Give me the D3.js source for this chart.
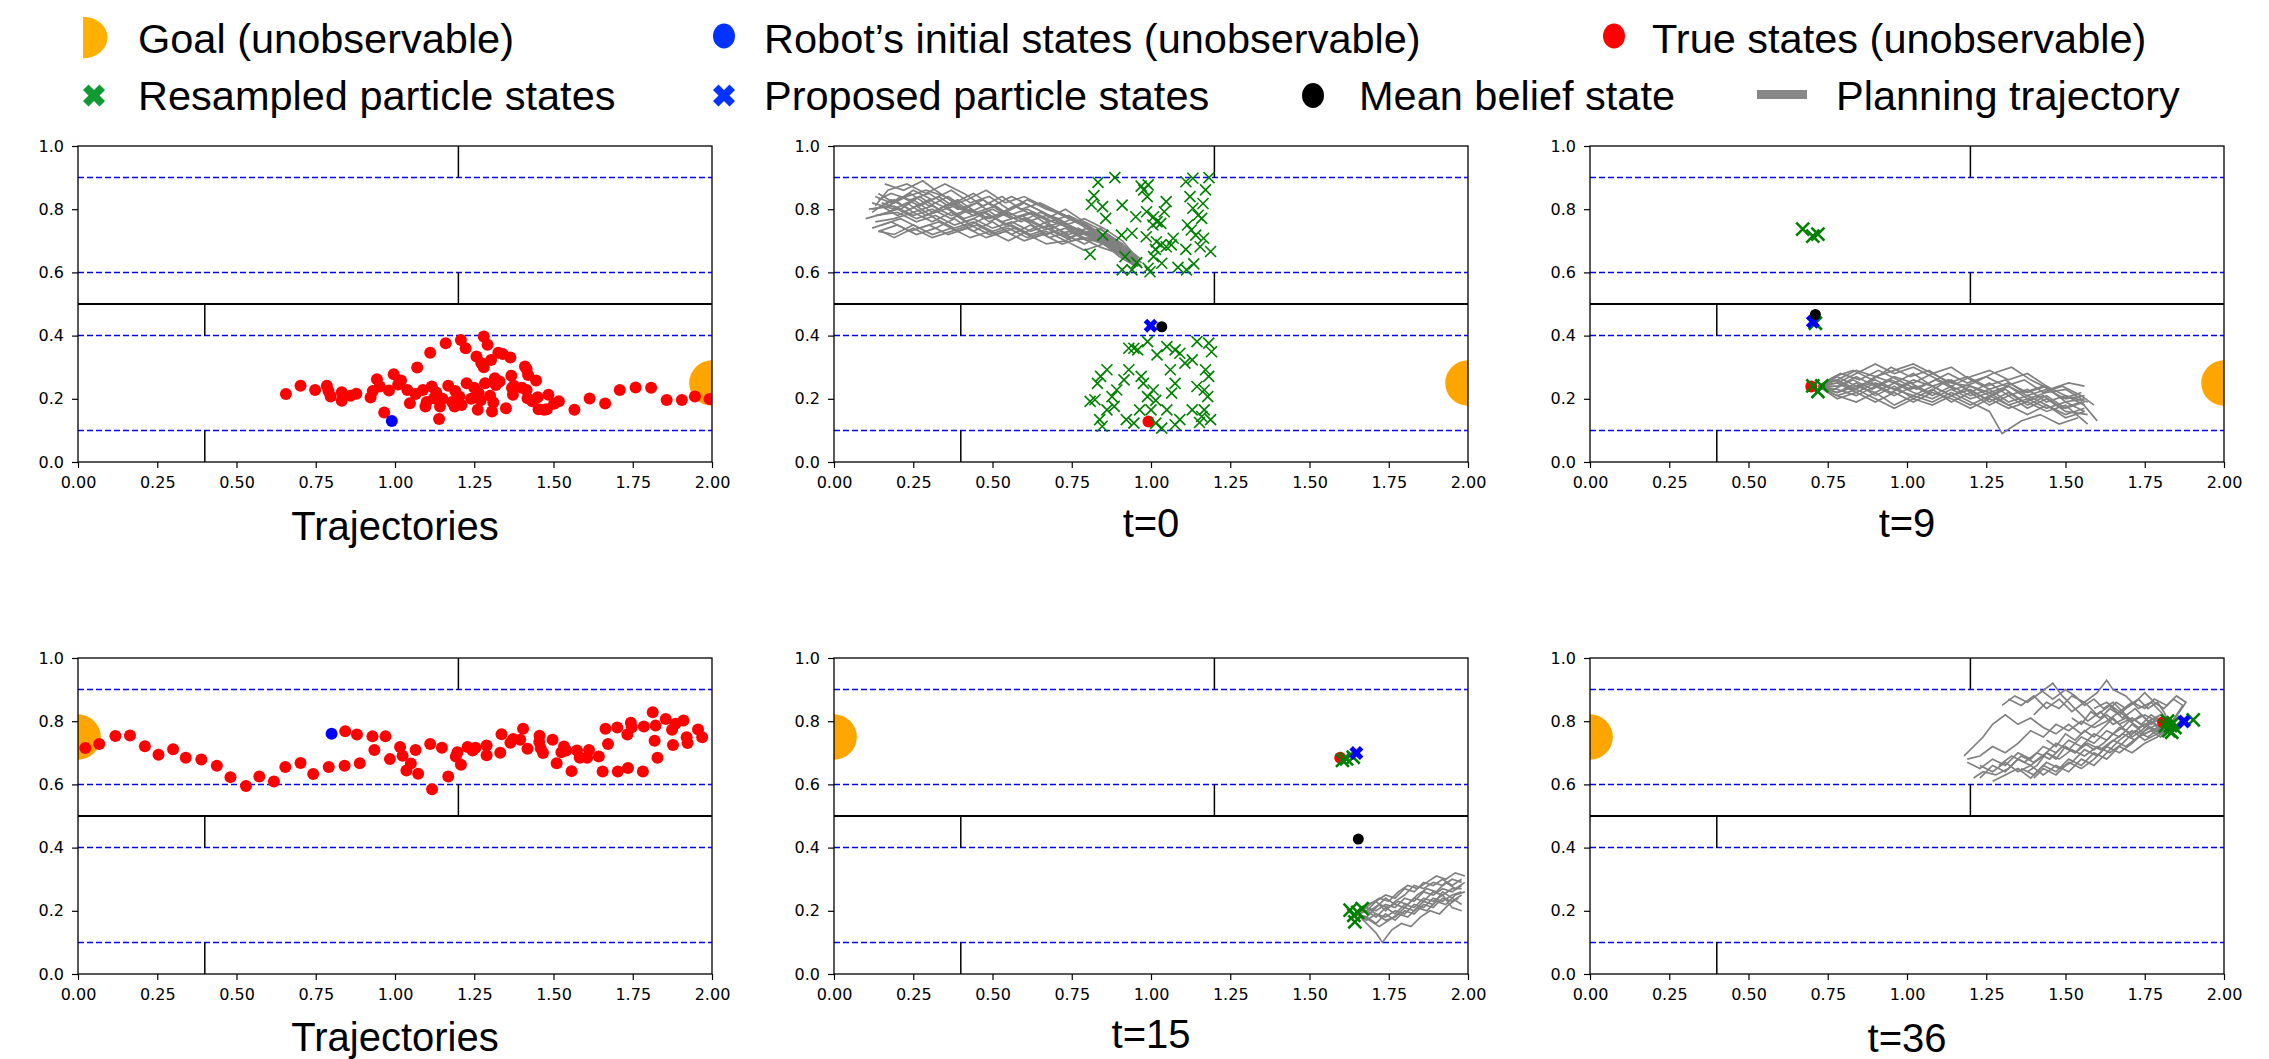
<!DOCTYPE html>
<html lang="en">
<head>
<meta charset="utf-8">
<title>Particle belief planning</title>
<script src="https://d3js.org/d3.v7.min.js"></script>
<style>
  body { margin: 0; background: #fff; }
  .tick text { font-family: "DejaVu Sans", sans-serif; font-size: 16px; fill: #000; }
  .tick line { stroke: #000; stroke-width: 1.2; }
  .lbl { font-family: "Liberation Sans", Arial, sans-serif; font-size: 40px; fill: #000; }
  .leg { font-size: 41.5px; }
</style>
</head>
<body>
<div id="chart"></div>
<script>
// ---- data (data units) ----
var xTicks = [0, 0.25, 0.5, 0.75, 1.0, 1.25, 1.5, 1.75, 2.0];
var yTicks = [0, 0.2, 0.4, 0.6, 0.8, 1.0];
var laneLines = [0.9, 0.6, 0.4, 0.1];
// walls: [x1, y1, x2, y2]
var walls = [[0, 0.5, 2, 0.5], [1.2, 0.9, 1.2, 1.0], [1.2, 0.5, 1.2, 0.6], [0.4, 0.4, 0.4, 0.5], [0.4, 0, 0.4, 0.1]];
var goalRadius = 0.072;

var titles = ["Trajectories", "t=0", "t=9", "Trajectories", "t=15", "t=36"];
var goals = [[2.0, 0.25], [2.0, 0.25], [2.0, 0.25], [0.0, 0.75], [0.0, 0.75], [0.0, 0.75]];

// true trajectory of episode 1 (top row)
var trueStatesA = [[0.656,0.215],[0.702,0.241],[0.748,0.228],[0.785,0.241],[0.797,0.207],[0.832,0.221],[0.832,0.194],[0.878,0.216],
  [0.923,0.204],[0.943,0.262],[0.952,0.239],[0.966,0.157],[0.981,0.226],[0.996,0.278],[1.019,0.258],[1.039,0.228],[1.047,0.186],
  [1.070,0.299],[1.088,0.228],[1.096,0.176],[1.111,0.346],[1.116,0.239],[1.123,0.202],[1.139,0.136],[1.142,0.176],[1.160,0.376],
  [1.168,0.241],[1.188,0.176],[1.203,0.207],[1.208,0.386],[1.223,0.360],[1.226,0.249],[1.257,0.334],[1.261,0.165],[1.264,0.218],
  [1.272,0.313],[1.280,0.397],[1.284,0.249],[1.292,0.371],[1.303,0.323],[1.306,0.160],[1.310,0.188],[1.315,0.265],[1.318,0.244],
  [1.326,0.346],[1.340,0.342],[1.364,0.331],[1.367,0.273],[1.369,0.234],[1.372,0.213],[1.375,0.241],[1.410,0.302],[1.415,0.294],
  [1.415,0.228],[1.418,0.202],[1.433,0.192],[1.445,0.258],[1.453,0.167],[1.479,0.167],[1.484,0.213],[1.502,0.184],[1.517,0.192],
  [1.566,0.165],[1.614,0.201],[1.663,0.185],[1.709,0.228],[1.759,0.236],[1.808,0.235],[1.857,0.196],[1.905,0.196],[1.946,0.207],
  [1.992,0.199],[1.065,0.215],[1.100,0.190],[1.130,0.220],[1.150,0.200],[1.180,0.190],[1.190,0.225],[1.210,0.180],[1.240,0.200],
  [1.270,0.195],[1.300,0.210],[1.330,0.255],[1.350,0.170],[1.400,0.235],[1.420,0.275],[1.250,0.235],[1.280,0.300],[1.010,0.245],
  [0.930,0.225],[0.860,0.210],[0.790,0.225],[1.450,0.205],[1.470,0.165]];
var initialA = [0.99, 0.13];

// true trajectory of episode 2 (bottom row)
var trueStatesB = [[0.023,0.715],[0.067,0.728],[0.118,0.753],[0.164,0.755],[0.211,0.721],[0.254,0.694],[0.300,0.711],[0.340,0.684],
  [0.389,0.679],[0.438,0.659],[0.481,0.623],[0.530,0.595],[0.572,0.625],[0.618,0.609],[0.654,0.655],[0.702,0.668],[0.742,0.633],
  [0.791,0.655],[0.841,0.659],[0.843,0.768],[0.880,0.758],[0.889,0.667],[0.929,0.752],[0.935,0.709],[0.970,0.752],[0.984,0.680],
  [1.016,0.718],[1.024,0.691],[1.036,0.644],[1.050,0.666],[1.065,0.709],[1.073,0.634],[1.111,0.728],[1.117,0.585],[1.148,0.716],
  [1.168,0.625],[1.197,0.702],[1.192,0.688],[1.208,0.662],[1.229,0.718],[1.245,0.707],[1.254,0.716],[1.289,0.723],[1.289,0.692],
  [1.332,0.700],[1.336,0.759],[1.364,0.732],[1.373,0.744],[1.395,0.741],[1.404,0.776],[1.418,0.713],[1.456,0.754],[1.455,0.734],
  [1.460,0.714],[1.467,0.699],[1.497,0.741],[1.510,0.667],[1.525,0.702],[1.533,0.720],[1.540,0.707],[1.557,0.642],[1.574,0.707],
  [1.583,0.684],[1.606,0.684],[1.612,0.709],[1.643,0.688],[1.655,0.641],[1.664,0.776],[1.672,0.728],[1.701,0.780],[1.703,0.641],
  [1.733,0.758],[1.735,0.652],[1.744,0.795],[1.747,0.781],[1.782,0.641],[1.785,0.783],[1.813,0.828],[1.819,0.738],[1.822,0.786],
  [1.828,0.684],[1.854,0.807],[1.874,0.773],[1.877,0.725],[1.885,0.792],[1.910,0.802],[1.920,0.749],[1.923,0.731],[1.956,0.774],
  [1.969,0.749]];
var initialB = [0.80, 0.76];

// t=0 resampled particles
var particles0 = [[0.833,0.885],[0.886,0.900],[0.820,0.843],[0.812,0.815],[0.847,0.808],[0.857,0.771],[0.909,0.813],[0.848,0.718],
  [0.808,0.657],[0.969,0.873],[0.991,0.877],[0.977,0.861],[0.988,0.840],[0.952,0.776],[0.986,0.792],[1.008,0.776],[1.019,0.760],
  [1.006,0.750],[1.031,0.755],[1.048,0.824],[1.042,0.792],[0.940,0.724],[0.907,0.718],[0.985,0.713],[1.017,0.697],[1.031,0.687],
  [1.014,0.673],[1.048,0.681],[1.064,0.687],[1.008,0.650],[1.034,0.629],[0.918,0.650],[0.909,0.608],[0.940,0.608],[0.955,0.631],
  [0.991,0.613],[0.997,0.602],[1.085,0.616],[1.112,0.608],[1.135,0.627],[1.110,0.673],[1.155,0.681],[1.188,0.666],[1.166,0.708],
  [1.115,0.750],[1.127,0.734],[1.141,0.718],[1.160,0.771],[1.149,0.781],[1.164,0.818],[1.132,0.803],[1.123,0.840],[1.172,0.861],
  [1.183,0.900],[1.132,0.898],[1.110,0.887],[1.070,0.708],
  [0.946,0.360],[0.958,0.355],[0.930,0.360],[0.989,0.381],[1.019,0.339],[1.050,0.365],[1.076,0.355],[1.091,0.344],[1.061,0.292],
  [1.076,0.249],[1.065,0.218],[1.107,0.313],[1.130,0.323],[1.145,0.381],[1.182,0.376],[1.191,0.349],[1.172,0.292],[1.182,0.271],
  [1.168,0.228],[1.179,0.207],[1.130,0.165],[1.160,0.144],[1.188,0.134],[1.153,0.125],[1.091,0.134],[1.076,0.118],[1.050,0.165],
  [1.034,0.107],[1.015,0.123],[1.000,0.165],[0.964,0.165],[0.989,0.207],[1.007,0.228],[0.976,0.249],[0.969,0.271],[0.930,0.292],
  [0.915,0.260],[0.892,0.228],[0.877,0.207],[0.884,0.176],[0.861,0.165],[0.838,0.134],[0.831,0.249],[0.841,0.271],[0.861,0.292],
  [0.823,0.197],[0.808,0.192],[0.846,0.113],[0.922,0.134],[0.946,0.123],[1.015,0.195],[1.145,0.239],[1.168,0.165]];

// planning trajectories, flat x,y lists
var plan0 = [
  [0.96,0.62,0.92,0.66,0.87,0.69,0.81,0.72,0.75,0.74,0.69,0.76,0.63,0.79,0.57,0.77,0.51,0.81,0.45,0.79,0.39,0.83,0.33,0.80,0.27,0.84,0.21,0.80,0.15,0.82],
  [0.96,0.63,0.91,0.67,0.86,0.70,0.80,0.74,0.74,0.72,0.68,0.75,0.62,0.73,0.56,0.76,0.50,0.74,0.44,0.77,0.38,0.75,0.32,0.78,0.26,0.76,0.20,0.79,0.13,0.78],
  [0.95,0.62,0.90,0.68,0.85,0.71,0.79,0.75,0.73,0.78,0.67,0.80,0.61,0.83,0.55,0.80,0.49,0.84,0.43,0.82,0.37,0.86,0.31,0.83,0.25,0.86,0.19,0.82,0.14,0.85],
  [0.97,0.64,0.92,0.68,0.86,0.72,0.80,0.70,0.74,0.73,0.68,0.71,0.62,0.75,0.56,0.72,0.50,0.76,0.44,0.73,0.38,0.77,0.32,0.74,0.26,0.72,0.20,0.75,0.14,0.73],
  [0.96,0.62,0.90,0.66,0.84,0.68,0.78,0.71,0.72,0.69,0.66,0.72,0.60,0.70,0.54,0.73,0.48,0.71,0.42,0.74,0.36,0.72,0.30,0.75,0.24,0.73,0.18,0.76,0.12,0.74],
  [0.95,0.63,0.89,0.69,0.83,0.73,0.77,0.76,0.71,0.79,0.65,0.82,0.59,0.80,0.53,0.84,0.47,0.81,0.41,0.85,0.35,0.88,0.29,0.85,0.23,0.88,0.17,0.86,0.13,0.81],
  [0.96,0.64,0.91,0.70,0.85,0.74,0.79,0.77,0.73,0.75,0.67,0.78,0.61,0.76,0.55,0.79,0.49,0.77,0.43,0.80,0.37,0.78,0.31,0.81,0.25,0.79,0.19,0.83,0.13,0.80],
  [0.97,0.63,0.92,0.67,0.87,0.71,0.81,0.74,0.75,0.77,0.69,0.74,0.63,0.78,0.57,0.81,0.51,0.78,0.45,0.82,0.39,0.80,0.33,0.84,0.27,0.81,0.21,0.84,0.16,0.80],
  [0.95,0.62,0.90,0.65,0.84,0.70,0.78,0.73,0.72,0.76,0.66,0.74,0.60,0.77,0.54,0.75,0.48,0.79,0.42,0.76,0.36,0.80,0.30,0.83,0.24,0.80,0.18,0.83,0.12,0.79],
  [0.96,0.63,0.90,0.68,0.85,0.72,0.79,0.69,0.73,0.72,0.67,0.76,0.61,0.73,0.55,0.70,0.49,0.73,0.43,0.71,0.37,0.74,0.31,0.72,0.25,0.75,0.19,0.72,0.14,0.73],
  [0.96,0.62,0.91,0.66,0.86,0.69,0.80,0.72,0.74,0.75,0.68,0.78,0.62,0.81,0.56,0.84,0.50,0.81,0.44,0.85,0.38,0.82,0.32,0.86,0.28,0.89,0.22,0.86,0.16,0.88],
  [0.95,0.63,0.89,0.67,0.83,0.71,0.77,0.74,0.71,0.72,0.65,0.75,0.59,0.78,0.53,0.76,0.47,0.79,0.41,0.77,0.35,0.81,0.29,0.78,0.23,0.82,0.17,0.79,0.10,0.77],
  [0.97,0.62,0.92,0.66,0.86,0.70,0.80,0.73,0.74,0.71,0.68,0.74,0.62,0.72,0.56,0.75,0.50,0.73,0.44,0.76,0.38,0.74,0.32,0.77,0.26,0.81,0.20,0.78,0.15,0.81],
  [0.96,0.63,0.91,0.69,0.85,0.73,0.79,0.76,0.73,0.80,0.67,0.77,0.61,0.80,0.55,0.78,0.49,0.82,0.43,0.79,0.37,0.82,0.31,0.79,0.25,0.83,0.19,0.80,0.12,0.82],
  [0.95,0.62,0.90,0.67,0.84,0.71,0.78,0.75,0.72,0.78,0.66,0.81,0.60,0.84,0.54,0.82,0.48,0.86,0.42,0.83,0.36,0.81,0.30,0.85,0.24,0.83,0.18,0.85,0.14,0.83],
  [0.96,0.62,0.92,0.65,0.87,0.68,0.81,0.71,0.75,0.70,0.69,0.73,0.63,0.71,0.57,0.74,0.51,0.72,0.45,0.75,0.39,0.73,0.33,0.76,0.27,0.74,0.21,0.77,0.15,0.75],
  [0.96,0.62,0.91,0.65,0.85,0.69,0.79,0.71,0.73,0.74,0.67,0.72,0.61,0.76,0.55,0.79,0.49,0.76,0.43,0.80,0.37,0.77,0.31,0.80,0.25,0.78,0.19,0.81,0.11,0.80],
  [0.95,0.63,0.90,0.69,0.84,0.74,0.78,0.72,0.72,0.75,0.66,0.79,0.60,0.82,0.54,0.79,0.48,0.77,0.42,0.80,0.36,0.84,0.30,0.81,0.24,0.85,0.18,0.82,0.13,0.84],
  [0.97,0.63,0.91,0.68,0.86,0.71,0.80,0.75,0.74,0.78,0.68,0.76,0.62,0.79,0.56,0.77,0.50,0.80,0.44,0.78,0.38,0.81,0.32,0.79,0.26,0.77,0.20,0.80,0.14,0.78],
  [0.96,0.62,0.91,0.66,0.85,0.70,0.79,0.73,0.73,0.70,0.67,0.73,0.61,0.71,0.55,0.74,0.49,0.72,0.43,0.75,0.37,0.73,0.31,0.71,0.25,0.74,0.19,0.71,0.15,0.73],
  [0.95,0.62,0.89,0.67,0.83,0.70,0.77,0.73,0.71,0.77,0.65,0.79,0.59,0.76,0.53,0.79,0.47,0.83,0.41,0.80,0.35,0.84,0.29,0.86,0.23,0.84,0.17,0.81,0.12,0.80],
  [0.96,0.63,0.90,0.66,0.85,0.69,0.79,0.67,0.73,0.70,0.67,0.69,0.61,0.72,0.55,0.75,0.49,0.78,0.43,0.75,0.37,0.79,0.31,0.76,0.25,0.79,0.19,0.77,0.13,0.76]];

var plan9 = [
  [0.72,0.24,0.78,0.26,0.84,0.23,0.90,0.27,0.96,0.25,1.02,0.28,1.08,0.24,1.14,0.26,1.20,0.22,1.26,0.25,1.32,0.21,1.38,0.23,1.44,0.19,1.50,0.21,1.56,0.18],
  [0.72,0.24,0.78,0.22,0.84,0.25,0.90,0.21,0.96,0.24,1.02,0.20,1.08,0.23,1.14,0.19,1.20,0.22,1.26,0.18,1.32,0.21,1.38,0.17,1.44,0.20,1.50,0.16,1.57,0.15],
  [0.72,0.24,0.77,0.27,0.83,0.29,0.89,0.26,0.95,0.30,1.01,0.27,1.07,0.29,1.13,0.25,1.19,0.27,1.25,0.24,1.31,0.26,1.37,0.22,1.43,0.24,1.49,0.20,1.55,0.22],
  [0.72,0.24,0.78,0.21,0.84,0.19,0.90,0.22,0.96,0.18,1.02,0.21,1.08,0.19,1.14,0.22,1.20,0.19,1.26,0.16,1.30,0.09,1.36,0.13,1.42,0.15,1.48,0.12,1.54,0.14],
  [0.72,0.24,0.78,0.25,0.84,0.28,0.90,0.31,0.96,0.28,1.02,0.30,1.08,0.27,1.14,0.24,1.20,0.27,1.26,0.29,1.32,0.26,1.38,0.28,1.44,0.24,1.50,0.19,1.56,0.20],
  [0.72,0.24,0.78,0.23,0.84,0.21,0.90,0.24,0.96,0.21,1.02,0.24,1.08,0.21,1.14,0.24,1.20,0.21,1.26,0.23,1.32,0.19,1.38,0.21,1.44,0.18,1.50,0.15,1.56,0.17],
  [0.72,0.24,0.77,0.26,0.83,0.23,0.89,0.25,0.95,0.22,1.01,0.25,1.07,0.22,1.13,0.26,1.19,0.23,1.25,0.20,1.31,0.23,1.37,0.19,1.43,0.21,1.49,0.17,1.55,0.19,1.60,0.13],
  [0.72,0.24,0.79,0.28,0.85,0.26,0.91,0.29,0.97,0.26,1.03,0.23,1.09,0.26,1.15,0.23,1.21,0.25,1.27,0.28,1.33,0.30,1.39,0.26,1.45,0.23,1.51,0.25,1.56,0.24],
  [0.72,0.24,0.78,0.20,0.84,0.22,0.90,0.19,0.96,0.22,1.02,0.19,1.08,0.22,1.14,0.20,1.20,0.17,1.26,0.20,1.32,0.17,1.38,0.19,1.44,0.16,1.50,0.18,1.57,0.12],
  [0.72,0.24,0.78,0.24,0.84,0.27,0.90,0.24,0.96,0.27,1.02,0.25,1.08,0.28,1.14,0.25,1.20,0.24,1.26,0.21,1.32,0.24,1.38,0.21,1.44,0.23,1.50,0.20,1.56,0.21],
  [0.72,0.24,0.78,0.27,0.84,0.24,0.90,0.26,0.96,0.23,1.02,0.26,1.08,0.24,1.14,0.21,1.20,0.24,1.26,0.22,1.32,0.24,1.38,0.20,1.44,0.22,1.50,0.23,1.55,0.20],
  [0.72,0.24,0.78,0.22,0.84,0.24,0.90,0.22,0.96,0.25,1.02,0.22,1.08,0.20,1.14,0.23,1.20,0.20,1.26,0.22,1.32,0.18,1.38,0.15,1.44,0.18,1.50,0.14,1.56,0.16],
  [0.72,0.24,0.78,0.26,0.84,0.29,0.90,0.27,0.96,0.29,1.02,0.31,1.08,0.28,1.14,0.30,1.20,0.26,1.26,0.23,1.32,0.25,1.38,0.22,1.44,0.24,1.50,0.21,1.57,0.19],
  [0.72,0.24,0.78,0.21,0.84,0.23,0.90,0.20,0.96,0.17,1.02,0.20,1.08,0.18,1.14,0.21,1.20,0.18,1.26,0.21,1.32,0.18,1.38,0.20,1.44,0.17,1.50,0.19,1.56,0.16],
  [0.72,0.24,0.77,0.23,0.83,0.26,0.89,0.23,0.95,0.26,1.01,0.23,1.07,0.25,1.13,0.28,1.19,0.25,1.25,0.27,1.31,0.24,1.37,0.26,1.43,0.22,1.49,0.24,1.55,0.21,1.59,0.18],
  [0.72,0.24,0.78,0.25,0.84,0.22,0.90,0.25,0.96,0.23,1.02,0.21,1.08,0.24,1.14,0.21,1.20,0.23,1.26,0.19,1.32,0.22,1.38,0.18,1.44,0.21,1.50,0.17,1.56,0.19]];

var plan15 = [
  [1.65,0.19,1.68,0.21,1.71,0.20,1.74,0.22,1.77,0.21,1.80,0.24,1.83,0.23,1.86,0.26,1.89,0.25,1.92,0.27,1.95,0.26,1.98,0.28],
  [1.65,0.19,1.68,0.17,1.71,0.19,1.74,0.18,1.77,0.20,1.80,0.19,1.83,0.22,1.86,0.21,1.89,0.24,1.92,0.23,1.95,0.25,1.98,0.26],
  [1.65,0.19,1.68,0.22,1.71,0.23,1.74,0.25,1.77,0.24,1.80,0.27,1.83,0.26,1.86,0.29,1.89,0.28,1.92,0.30,1.95,0.28,1.98,0.30],
  [1.65,0.19,1.68,0.16,1.71,0.13,1.73,0.10,1.76,0.14,1.79,0.16,1.82,0.15,1.85,0.18,1.88,0.20,1.91,0.19,1.94,0.22,1.97,0.24],
  [1.65,0.19,1.69,0.20,1.72,0.22,1.75,0.21,1.78,0.23,1.81,0.22,1.84,0.25,1.87,0.27,1.90,0.26,1.93,0.29,1.96,0.27,1.99,0.29],
  [1.65,0.19,1.68,0.18,1.71,0.16,1.74,0.19,1.77,0.17,1.80,0.20,1.83,0.19,1.86,0.22,1.89,0.21,1.92,0.24,1.95,0.23,1.98,0.25],
  [1.65,0.19,1.69,0.22,1.72,0.24,1.75,0.23,1.78,0.26,1.81,0.28,1.84,0.27,1.87,0.29,1.90,0.31,1.93,0.30,1.96,0.32,1.99,0.31],
  [1.65,0.19,1.68,0.20,1.71,0.18,1.74,0.21,1.77,0.19,1.80,0.22,1.83,0.21,1.86,0.24,1.89,0.23,1.92,0.25,1.95,0.21,1.98,0.20],
  [1.65,0.19,1.68,0.21,1.71,0.19,1.74,0.17,1.77,0.18,1.80,0.21,1.83,0.24,1.86,0.23,1.89,0.26,1.92,0.25,1.95,0.27,1.98,0.27],
  [1.65,0.19,1.68,0.20,1.71,0.23,1.74,0.20,1.77,0.23,1.80,0.25,1.83,0.28,1.86,0.27,1.89,0.29,1.92,0.28,1.95,0.30,1.98,0.29],
  [1.65,0.19,1.68,0.18,1.71,0.21,1.74,0.24,1.77,0.22,1.80,0.21,1.83,0.20,1.86,0.23,1.89,0.22,1.92,0.26,1.95,0.24,1.98,0.22],
  [1.65,0.19,1.69,0.17,1.72,0.15,1.75,0.17,1.78,0.19,1.81,0.18,1.84,0.21,1.87,0.20,1.90,0.23,1.93,0.22,1.96,0.25,1.99,0.26]];

var plan36 = [
  [1.83,0.79,1.79,0.77,1.75,0.79,1.71,0.76,1.67,0.78,1.63,0.74,1.59,0.76,1.55,0.72,1.51,0.74,1.47,0.70,1.43,0.72,1.39,0.68,1.35,0.70,1.31,0.66,1.27,0.68,1.23,0.65,1.19,0.67],
  [1.83,0.79,1.80,0.82,1.76,0.80,1.72,0.84,1.68,0.81,1.64,0.85,1.60,0.82,1.56,0.86,1.52,0.83,1.48,0.87,1.44,0.84,1.40,0.88,1.36,0.85,1.32,0.87],
  [1.83,0.79,1.79,0.75,1.75,0.73,1.71,0.70,1.67,0.72,1.63,0.68,1.59,0.70,1.55,0.66,1.51,0.68,1.47,0.64,1.43,0.66,1.39,0.62,1.35,0.65,1.31,0.63,1.27,0.61],
  [1.83,0.79,1.80,0.83,1.77,0.86,1.73,0.84,1.69,0.88,1.65,0.90,1.63,0.93,1.60,0.89,1.56,0.86,1.52,0.88,1.48,0.84,1.44,0.86,1.40,0.82],
  [1.83,0.79,1.79,0.78,1.75,0.76,1.71,0.79,1.67,0.75,1.63,0.77,1.59,0.73,1.55,0.75,1.51,0.71,1.47,0.73,1.43,0.69,1.39,0.66,1.35,0.68,1.31,0.64,1.27,0.66,1.23,0.62],
  [1.83,0.79,1.80,0.76,1.76,0.78,1.72,0.74,1.68,0.76,1.64,0.73,1.60,0.69,1.56,0.71,1.52,0.67,1.48,0.65,1.44,0.67,1.40,0.63,1.36,0.65],
  [1.83,0.79,1.79,0.80,1.75,0.82,1.71,0.80,1.67,0.83,1.63,0.80,1.59,0.78,1.55,0.80,1.51,0.77,1.47,0.79,1.43,0.75,1.39,0.77,1.35,0.73,1.31,0.70,1.27,0.72,1.23,0.69,1.19,0.68],
  [1.83,0.79,1.80,0.77,1.77,0.80,1.73,0.78,1.69,0.81,1.65,0.79,1.61,0.83,1.57,0.80,1.53,0.84,1.49,0.88,1.46,0.92,1.42,0.89,1.38,0.86,1.34,0.88,1.30,0.85],
  [1.83,0.79,1.79,0.79,1.75,0.77,1.71,0.73,1.67,0.70,1.63,0.72,1.59,0.68,1.55,0.65,1.51,0.67,1.47,0.63,1.43,0.65,1.40,0.62],
  [1.83,0.79,1.80,0.80,1.77,0.82,1.74,0.79,1.71,0.81,1.68,0.78,1.65,0.81,1.62,0.78,1.59,0.75,1.56,0.77,1.53,0.74,1.50,0.76,1.47,0.72,1.44,0.74],
  [1.83,0.79,1.81,0.83,1.79,0.86,1.76,0.84,1.73,0.87,1.70,0.85,1.67,0.82,1.64,0.84,1.61,0.81,1.58,0.83,1.55,0.79,1.52,0.81],
  [1.83,0.79,1.79,0.76,1.75,0.74,1.71,0.77,1.67,0.74,1.63,0.70,1.59,0.66,1.55,0.68,1.51,0.64,1.47,0.66,1.43,0.63,1.39,0.66,1.35,0.64,1.31,0.67,1.27,0.64,1.23,0.66],
  [1.83,0.79,1.86,0.83,1.88,0.86,1.85,0.88,1.82,0.85,1.78,0.87,1.75,0.84,1.71,0.86,1.67,0.83,1.63,0.86,1.59,0.84],
  [1.83,0.79,1.80,0.75,1.77,0.77,1.73,0.75,1.69,0.72,1.65,0.74,1.61,0.71,1.57,0.73,1.53,0.70,1.49,0.72,1.45,0.68,1.41,0.70,1.37,0.67,1.33,0.69,1.29,0.66],
  [1.83,0.79,1.79,0.81,1.75,0.78,1.71,0.81,1.67,0.79,1.63,0.82,1.59,0.79,1.55,0.76,1.51,0.79,1.47,0.76,1.43,0.78,1.39,0.81,1.35,0.79,1.31,0.82,1.27,0.79,1.24,0.75,1.21,0.72,1.18,0.69],
  [1.83,0.79,1.80,0.78,1.76,0.75,1.72,0.77,1.68,0.73,1.64,0.70,1.60,0.72,1.56,0.69,1.52,0.71,1.48,0.68,1.44,0.70,1.40,0.67,1.36,0.69,1.32,0.65,1.28,0.63,1.24,0.64,1.21,0.62],
  [1.83,0.79,1.80,0.81,1.77,0.79,1.74,0.82,1.71,0.80,1.68,0.83,1.65,0.86,1.62,0.84,1.59,0.87,1.56,0.85,1.53,0.88,1.50,0.90,1.46,0.87,1.42,0.90],
  [1.83,0.79,1.80,0.78,1.77,0.80,1.74,0.77,1.71,0.75,1.68,0.78,1.65,0.76,1.62,0.73,1.59,0.71,1.56,0.73,1.53,0.70,1.50,0.72,1.47,0.68,1.44,0.70,1.41,0.66,1.38,0.64],
  [1.83,0.79,1.85,0.82,1.87,0.85,1.84,0.87,1.81,0.84,1.78,0.86,1.75,0.89,1.72,0.86,1.69,0.84,1.66,0.86,1.63,0.83]];

var particles9 = [[0.671,0.737],[0.703,0.715],[0.719,0.721],[0.711,0.439],[0.703,0.241],[0.731,0.241],[0.719,0.223]];
var particles15 = [[1.617,0.681],[1.638,0.686],[1.604,0.676],[1.628,0.202],[1.643,0.165],[1.666,0.207],[1.640,0.186],[1.652,0.195]];
var particles36 = [[1.815,0.785],[1.831,0.786],[1.840,0.795],[1.826,0.770],[1.845,0.780],[1.822,0.800],[1.835,0.765],[1.903,0.804]];

var trueStates = [null, [0.992, 0.128], [0.698, 0.239], null, [1.597, 0.684], [1.808, 0.797]];
var proposed = [null, [0.999, 0.431], [0.703, 0.444], null, [1.648, 0.699], [1.874, 0.799]];
var meanBelief = [null, [1.034, 0.428], [0.711, 0.467], null, [1.654, 0.427], null];

var legendRow1 = ["Goal (unobservable)", "Robot\u2019s initial states (unobservable)", "True states (unobservable)"];
var legendRow2 = ["Resampled particle states", "Proposed particle states", "Mean belief state", "Planning trajectory"];

// ---- layout ----
var W = 2269, H = 1059;
var panelW = 634, panelH = 316;
var colX = [78, 834, 1590], rowY = [146, 658];
var titleBase = [540, 537, 537, 1051, 1048, 1052];

var svg = d3.select("#chart").append("svg")
  .attr("width", W).attr("height", H)
  .style("background", "#fff");

var xScale = d3.scaleLinear().domain([0, 2]).range([0, panelW]);
var yScale = d3.scaleLinear().domain([0, 1]).range([panelH, 0]);

function pairs(flat) {
  var out = [];
  for (var i = 0; i < flat.length; i += 2) out.push([flat[i], flat[i + 1]]);
  return out;
}

// thin 'x' marker
function lineX(g, p, half, color, sw) {
  var cx = xScale(p[0]), cy = yScale(p[1]);
  g.append("path")
    .attr("d", "M" + (cx - half) + "," + (cy - half) + "L" + (cx + half) + "," + (cy + half) +
               "M" + (cx - half) + "," + (cy + half) + "L" + (cx + half) + "," + (cy - half))
    .attr("stroke", color).attr("stroke-width", sw).attr("fill", "none");
}
// filled 'X' marker
function filledX(g, cx, cy, s, color) {
  var u = [[-0.25,-0.5],[0,-0.25],[0.25,-0.5],[0.5,-0.25],[0.25,0],[0.5,0.25],[0.25,0.5],[0,0.25],[-0.25,0.5],[-0.5,0.25],[-0.25,0],[-0.5,-0.25]];
  g.append("path")
    .attr("d", "M" + u.map(function (q) { return (cx + q[0] * s) + "," + (cy + q[1] * s); }).join("L") + "Z")
    .attr("fill", color);
}

var line = d3.line().x(function (d) { return xScale(d[0]); }).y(function (d) { return yScale(d[1]); });

var plans = [null, plan0, plan9, null, plan15, plan36];
var parts = [null, particles0, particles9, null, particles15, particles36];

titles.forEach(function (title, i) {
  var col = i % 3, row = Math.floor(i / 3);
  var g = svg.append("g").attr("transform", "translate(" + colX[col] + "," + rowY[row] + ")");

  svg.append("clipPath").attr("id", "clip" + i)
    .append("rect").attr("width", panelW).attr("height", panelH);
  var plot = g.append("g").attr("clip-path", "url(#clip" + i + ")");

  // lanes
  plot.selectAll("line.lane").data(laneLines).enter().append("line")
    .attr("x1", 0).attr("x2", panelW)
    .attr("y1", function (d) { return yScale(d); }).attr("y2", function (d) { return yScale(d); })
    .attr("stroke", "#0000ff").attr("stroke-width", 1.5).attr("stroke-dasharray", "6,3");

  // walls
  plot.selectAll("line.wall").data(walls).enter().append("line")
    .attr("x1", function (d) { return xScale(d[0]); }).attr("y1", function (d) { return yScale(d[1]); })
    .attr("x2", function (d) { return xScale(d[2]); }).attr("y2", function (d) { return yScale(d[3]); })
    .attr("stroke", "#000").attr("stroke-width", function (d) { return d[1] === d[3] ? 2.2 : 1.5; });

  // goal
  plot.append("ellipse")
    .attr("cx", xScale(goals[i][0])).attr("cy", yScale(goals[i][1]))
    .attr("rx", xScale(goalRadius) - xScale(0)).attr("ry", yScale(0) - yScale(goalRadius))
    .attr("fill", "#ffa500");

  if (col === 0) {
    var ts = row === 0 ? trueStatesA : trueStatesB;
    plot.selectAll("circle.true").data(ts).enter().append("circle")
      .attr("cx", function (d) { return xScale(d[0]); }).attr("cy", function (d) { return yScale(d[1]); })
      .attr("r", 6).attr("fill", "#ff0000");
    var ini = row === 0 ? initialA : initialB;
    plot.append("circle").attr("cx", xScale(ini[0])).attr("cy", yScale(ini[1])).attr("r", 6).attr("fill", "#0000ff");
  } else {
    plot.selectAll("path.plan").data(plans[i]).enter().append("path")
      .attr("d", function (d) { return line(pairs(d)); })
      .attr("fill", "none").attr("stroke", "#808080").attr("stroke-width", 1.7).attr("stroke-linejoin", "miter");
    plot.append("circle").attr("cx", xScale(trueStates[i][0])).attr("cy", yScale(trueStates[i][1]))
      .attr("r", 6).attr("fill", "#ff0000");
    var half = i === 1 ? 5.5 : 6.5, sw = i === 1 ? 1.6 : 2.6;
    parts[i].forEach(function (p) { lineX(plot, p, half, "#008000", sw); });
    filledX(plot, xScale(proposed[i][0]), yScale(proposed[i][1]), 14, "#0000ff");
    if (meanBelief[i]) {
      plot.append("circle").attr("cx", xScale(meanBelief[i][0])).attr("cy", yScale(meanBelief[i][1]))
        .attr("r", 5.5).attr("fill", "#000");
    }
  }

  // frame
  g.append("rect").attr("width", panelW).attr("height", panelH)
    .attr("fill", "none").attr("stroke", "#000").attr("stroke-width", 1.3);

  // axes
  g.append("g").attr("transform", "translate(0," + panelH + ")")
    .call(d3.axisBottom(xScale).tickValues(xTicks).tickFormat(d3.format(".2f")).tickSize(6).tickPadding(8.5))
    .call(function (a) { a.select(".domain").remove(); });
  g.append("g")
    .call(d3.axisLeft(yScale).tickValues(yTicks).tickFormat(d3.format(".1f")).tickSize(6).tickPadding(8))
    .call(function (a) { a.select(".domain").remove(); });

  svg.append("text").attr("class", "lbl")
    .attr("x", colX[col] + panelW / 2).attr("y", titleBase[i])
    .attr("text-anchor", "middle").text(title);
});

// ---- legend ----
var leg = svg.append("g");
// goal half disc
leg.append("path")
  .attr("d", "M83,16.7 A24.5,20.8 0 0 1 83,58.3 Z")
  .attr("fill", "#ffb000");
leg.append("ellipse").attr("cx", 724).attr("cy", 36).attr("rx", 11).attr("ry", 12.5).attr("fill", "#0433ff");
leg.append("ellipse").attr("cx", 1614).attr("cy", 36).attr("rx", 11).attr("ry", 12.5).attr("fill", "#ff0000");
filledX(leg, 94, 95.5, 22, "#119a33");
filledX(leg, 724, 95.5, 22, "#0433ff");
leg.append("ellipse").attr("cx", 1313).attr("cy", 95.5).attr("rx", 11).attr("ry", 12.5).attr("fill", "#000");
leg.append("rect").attr("x", 1757).attr("y", 90).attr("width", 50).attr("height", 9).attr("fill", "#888");

var row1X = [138, 764, 1652];
var row2X = [138, 764, 1359, 1836];
legendRow1.forEach(function (t, k) {
  leg.append("text").attr("class", "lbl leg").attr("x", row1X[k]).attr("y", 53).text(t);
});
legendRow2.forEach(function (t, k) {
  leg.append("text").attr("class", "lbl leg").attr("x", row2X[k]).attr("y", 110).text(t);
});
</script>
</body>
</html>
